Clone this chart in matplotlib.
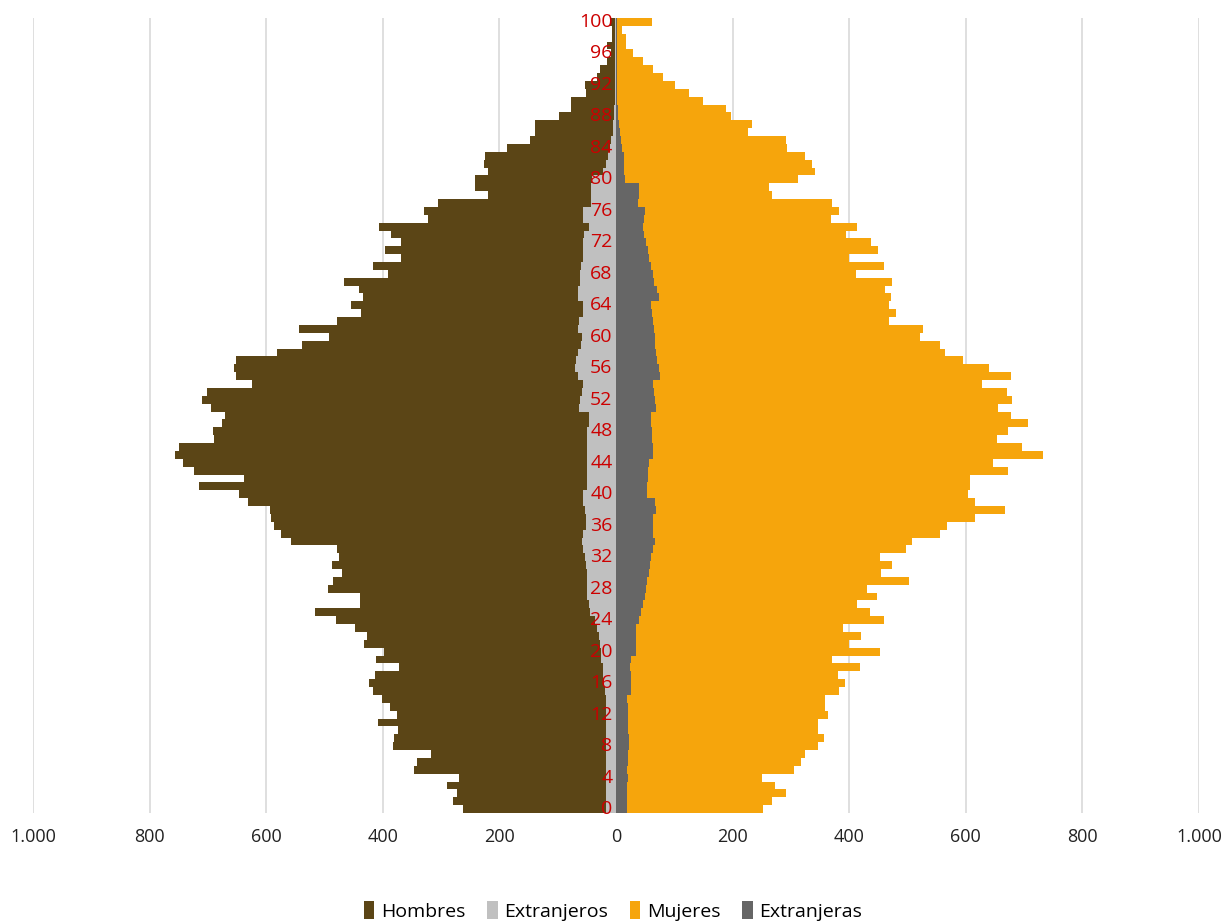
"""
Pirámide de población por edad simple: total y extranjeros, hombres y mujeres.
"""

import matplotlib.pyplot as plt
from matplotlib.ticker import FuncFormatter
from matplotlib.patches import Patch
import numpy as np

plt.rcParams['font.family'] = ['Open Sans', 'DejaVu Sans']

edades = np.arange(0, 101)

# valores por edad 0..100
hombres = [
	262, 279, 273, 290, 269, 346, 341, 317, 382, 381,
	374, 408, 375, 387, 401, 416, 423, 413, 372, 411,
	398, 432, 427, 447, 480, 516, 439, 439, 494, 485,
	470, 487, 475, 478, 557, 574, 586, 591, 593, 632,
	646, 715, 638, 723, 742, 756, 749, 690, 692, 675,
	670, 694, 710, 701, 624, 651, 655, 651, 581, 538,
	492, 543, 478, 437, 454, 434, 440, 466, 391, 416,
	369, 396, 369, 386, 406, 322, 329, 305, 219, 242,
	242, 220, 227, 225, 187, 147, 139, 139, 98, 77,
	77, 51, 53, 33, 27, 15, 9, 15, 7, 7,
	11,
]
extranjeros = [
	18, 18, 18, 18, 18, 18, 18, 18, 18, 18,
	18, 18, 18, 18, 18, 19, 21, 22, 23, 25,
	26, 27, 30, 33, 36, 45, 47, 49, 49, 49,
	50, 51, 53, 56, 59, 57, 51, 52, 54, 56,
	56, 49, 49, 49, 49, 50, 50, 49, 49, 47,
	47, 63, 62, 59, 56, 66, 70, 69, 66, 60,
	58, 65, 63, 56, 57, 66, 65, 62, 62, 60,
	57, 57, 57, 55, 47, 56, 56, 43, 43, 43,
	42, 22, 18, 14, 11, 9, 6, 5, 3, 3,
	2, 2, 2, 1, 1, 1, 1, 1, 1, 1,
	1,
]
mujeres = [
	253, 267, 292, 272, 250, 306, 318, 325, 347, 356,
	347, 347, 364, 359, 359, 383, 392, 380, 418, 371,
	452, 400, 421, 390, 459, 436, 414, 448, 430, 503,
	454, 474, 452, 498, 507, 556, 568, 616, 668, 616,
	603, 608, 608, 673, 647, 733, 697, 654, 673, 707,
	678, 656, 680, 670, 627, 678, 640, 596, 565, 556,
	522, 527, 469, 481, 469, 472, 461, 474, 412, 459,
	399, 450, 438, 395, 414, 368, 383, 370, 268, 262,
	313, 342, 337, 325, 294, 291, 227, 233, 198, 188,
	150, 126, 102, 80, 63, 46, 29, 17, 18, 11,
	62,
]
extranjeras = [
	19, 19, 19, 19, 20, 19, 21, 21, 22, 23,
	21, 21, 21, 20, 19, 25, 25, 25, 24, 26,
	35, 34, 34, 35, 39, 43, 47, 50, 51, 54,
	57, 58, 60, 63, 67, 64, 63, 64, 69, 67,
	53, 54, 55, 55, 57, 63, 63, 62, 61, 60,
	60, 68, 67, 65, 63, 75, 74, 71, 69, 67,
	67, 65, 64, 62, 60, 74, 70, 66, 63, 60,
	57, 55, 51, 48, 46, 48, 50, 38, 39, 39,
	15, 14, 13, 13, 11, 8, 7, 5, 4, 3,
	2, 2, 2, 2, 1, 1, 1, 1, 1, 1,
	1,
]

etiquetas_edad = list(range(0, 101, 4))
ticks_x = list(range(-1000, 1001, 200))

c_hombres = '#5B4516'
c_extranjeros = '#C0C0C0'
c_mujeres = '#F6A50C'
c_extranjeras = '#666666'

fig = plt.figure(figsize=(12.26, 9.23), dpi=100)
ax = fig.add_axes([33 / 1226, 110 / 923, 1166 / 1226, 795 / 923])

ax.barh(edades, -np.array(hombres), height=1.0, color=c_hombres, linewidth=0, zorder=2)
ax.barh(edades, -np.array(extranjeros), height=1.0, color=c_extranjeros, linewidth=0, zorder=3)
ax.barh(edades, mujeres, height=1.0, color=c_mujeres, linewidth=0, zorder=2)
ax.barh(edades, extranjeras, height=1.0, color=c_extranjeras, linewidth=0, zorder=3)

ax.set_xlim(-1000, 1000)
ax.set_ylim(-0.5, 100.5)
ax.set_xticks(ticks_x)
ax.xaxis.set_major_formatter(FuncFormatter(lambda v, p: f"{abs(int(v)):,}".replace(',', '.')))
ax.tick_params(axis='x', length=0, pad=11, labelsize=13, labelcolor='#222222')
ax.set_yticks([])
ax.grid(axis='x', color='#D9D9D9', linewidth=1.2, zorder=0)
ax.set_axisbelow(True)
for s in ax.spines.values():
	s.set_visible(False)

# etiquetas de edad en el centro
for e in etiquetas_edad:
	ax.text(-6, e, str(e), ha='right', va='center', fontsize=14,
		color='#CC0000', zorder=5)

legend_elements = [
	Patch(facecolor=c_hombres, label='Hombres'),
	Patch(facecolor=c_extranjeros, label='Extranjeros'),
	Patch(facecolor=c_mujeres, label='Mujeres'),
	Patch(facecolor=c_extranjeras, label='Extranjeras'),
]
fig.legend(handles=legend_elements, loc='center', bbox_to_anchor=(0.5, 1 - 911 / 923),
	ncol=4, frameon=False, fontsize=14, handlelength=0.55, handleheight=1.0,
	handletextpad=0.35, columnspacing=1.1)

plt.savefig('out.png', dpi=100)
plt.close()
